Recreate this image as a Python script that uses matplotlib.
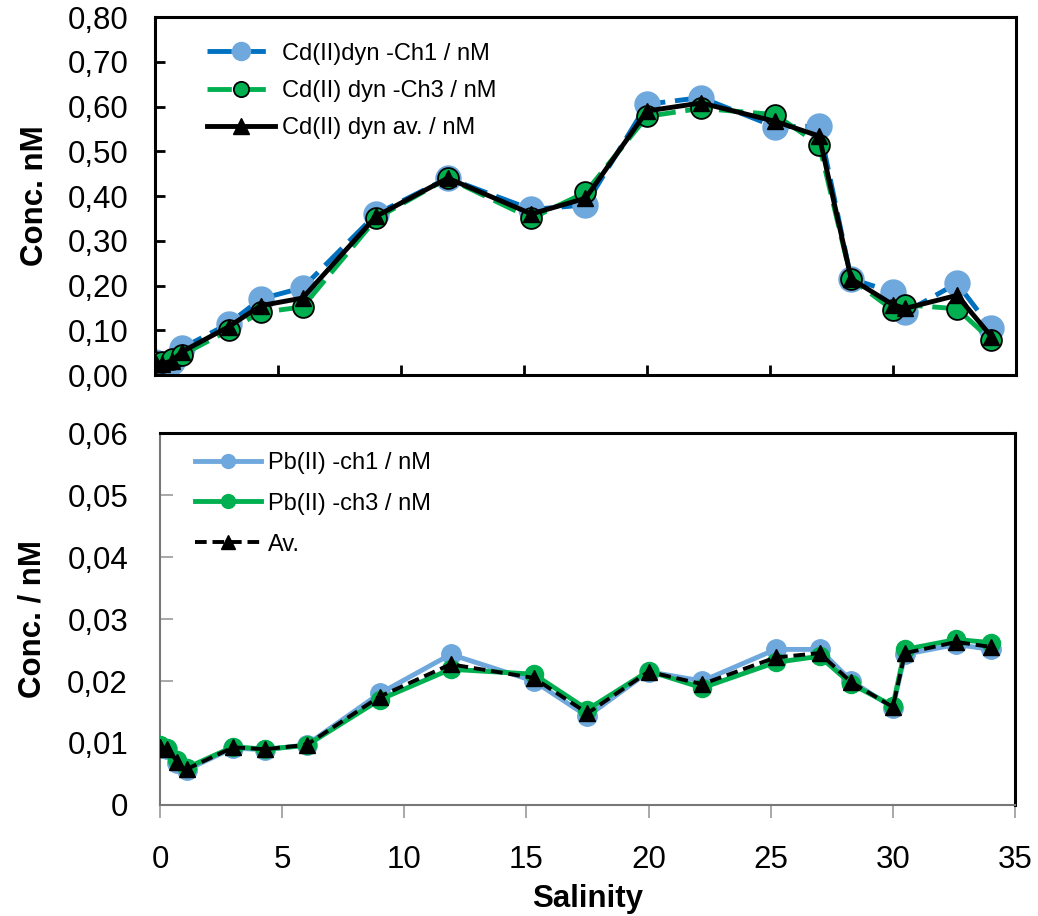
import numpy as np
import matplotlib
matplotlib.use("Agg")
import matplotlib.pyplot as plt
from matplotlib.ticker import FuncFormatter, MultipleLocator

plt.rcParams["font.family"] = ["Liberation Sans", "DejaVu Sans"]

# salinity of the samples
sal = [0.0, 0.3, 0.7, 1.1, 3.0, 4.3, 6.0, 9.0, 11.9, 15.3, 17.5,
       20.0, 22.2, 25.2, 27.0, 28.3, 30.0, 30.5, 32.6, 34.0]

# Cd(II) dynamic, nM
cd_ch1 = [0.03, 0.02, 0.03, 0.06, 0.115, 0.17, 0.195, 0.36, 0.44, 0.37, 0.38,
          0.605, 0.62, 0.555, 0.556, 0.215, 0.185, 0.14, 0.205, 0.104]
cd_ch3 = [0.03, 0.03, 0.035, 0.045, 0.10, 0.14, 0.152, 0.35, 0.44, 0.35, 0.408,
          0.578, 0.596, 0.582, 0.515, 0.215, 0.145, 0.157, 0.148, 0.078]
cd_av = [0.03, 0.025, 0.032, 0.052, 0.108, 0.155, 0.172, 0.355, 0.44, 0.36, 0.395,
         0.59, 0.608, 0.567, 0.534, 0.215, 0.157, 0.149, 0.178, 0.086]

# Pb(II), nM
pb_ch1 = [0.0092, 0.0090, 0.0068, 0.0057, 0.0092, 0.0089, 0.0097, 0.0180, 0.0243, 0.0200, 0.0143,
          0.0215, 0.0200, 0.0251, 0.0251, 0.0200, 0.0157, 0.0243, 0.0259, 0.0251]
pb_ch3 = [0.0096, 0.0092, 0.0072, 0.0060, 0.0094, 0.0090, 0.0096, 0.0170, 0.0219, 0.0211, 0.0154,
          0.0216, 0.0189, 0.0230, 0.0240, 0.0195, 0.0160, 0.0251, 0.0267, 0.0262]
pb_av = [0.0094, 0.0091, 0.0070, 0.0058, 0.0093, 0.0090, 0.0097, 0.0175, 0.0227, 0.0205, 0.0148,
         0.0215, 0.0195, 0.0238, 0.0245, 0.0198, 0.0158, 0.0245, 0.0263, 0.0255]

BLUE = "#0070C0"
LBLUE = "#6FA8DC"
GREEN = "#00B050"

fig = plt.figure(figsize=(10.38, 9.16), dpi=100)

# ---- top panel: Cd ----
ax1 = fig.add_axes([0.1493, 0.5906, 0.8295, 0.3908])
ax1.plot(sal, cd_ch1, color=BLUE, lw=3.5, ls=(0, (5, 2)), marker="o", ms=18,
         mfc=LBLUE, mec=LBLUE, label="Cd(II)dyn -Ch1 / nM", zorder=2)
ax1.plot(sal, cd_ch3, color=GREEN, lw=3.5, ls=(0, (5, 2)), marker="o", ms=15,
         mfc=GREEN, mec="black", mew=1.3, label="Cd(II) dyn -Ch3 / nM", zorder=3)
ax1.plot(sal, cd_av, color="black", lw=3.5, marker="^", ms=11,
         label="Cd(II) dyn av. / nM", zorder=4)
ax1.set_xlim(0, 35)
ax1.set_ylim(0, 0.8)
ax1.xaxis.set_major_locator(MultipleLocator(5))
ax1.yaxis.set_major_locator(MultipleLocator(0.1))
ax1.tick_params(axis="both", direction="in", length=7, width=2, labelsize=22.5)
ax1.tick_params(axis="y", pad=19)
ax1.tick_params(axis="x", labelbottom=False)
ax1.yaxis.set_major_formatter(FuncFormatter(lambda v, p: f"{v:.2f}".replace(".", ",")))
for s in ax1.spines.values():
    s.set_linewidth(2.2)
ax1.set_ylabel("Conc. nM", fontsize=22.5, fontweight="bold")
ax1.yaxis.set_label_coords(-0.122, 0.5)
leg1 = ax1.legend(loc="upper left", bbox_to_anchor=(0.049, 0.955), frameon=False,
                  fontsize=17, handlelength=2.9, handletextpad=0.3, labelspacing=0.65,
                  borderaxespad=0)
leg1.get_lines()[0].set_markersize(13)
leg1.get_lines()[1].set_markersize(11)
leg1.get_lines()[2].set_markersize(11)

# ---- bottom panel: Pb ----
ax2 = fig.add_axes([0.1541, 0.1212, 0.8237, 0.406])
ax2.plot(sal, pb_ch1, color=LBLUE, lw=3.5, marker="o", ms=14,
         label="Pb(II) -ch1 / nM", zorder=2)
ax2.plot(sal, pb_ch3, color=GREEN, lw=3.5, marker="o", ms=13,
         label="Pb(II) -ch3 / nM", zorder=3)
ax2.plot(sal, pb_av, color="black", lw=2.8, ls=(0, (3, 1.5)), marker="^", ms=11,
         label="Av.", zorder=4)
ax2.set_xlim(0, 35)
ax2.set_ylim(0, 0.06)
ax2.xaxis.set_major_locator(MultipleLocator(5))
ax2.yaxis.set_major_locator(MultipleLocator(0.01))
ax2.tick_params(axis="y", direction="in", length=9, width=1.2, color="#999999",
                labelsize=22.5, pad=23)
ax2.tick_params(axis="x", direction="out", length=9, width=1.2, color="#999999",
                labelsize=22.5, pad=20)
ax2.yaxis.set_major_formatter(FuncFormatter(
    lambda v, p: "0" if abs(v) < 1e-9 else f"{v:.2f}".replace(".", ",")))
ax2.spines["left"].set_color("#777777")
ax2.spines["bottom"].set_color("#777777")
ax2.spines["left"].set_linewidth(1.5)
ax2.spines["bottom"].set_linewidth(1.5)
ax2.spines["top"].set_linewidth(2.2)
ax2.spines["right"].set_linewidth(2.2)
ax2.set_ylabel("Conc. / nM", fontsize=22.5, fontweight="bold")
ax2.yaxis.set_label_coords(-0.132, 0.5)
ax2.set_xlabel("Salinity", fontsize=22.5, fontweight="bold", labelpad=6)
leg2 = ax2.legend(loc="upper left", bbox_to_anchor=(0.03, 0.975), frameon=False,
                  fontsize=17, handlelength=2.8, handletextpad=0.3, labelspacing=0.8,
                  borderaxespad=0)
for ln in leg2.get_lines():
    ln.set_markersize(10)

fig.savefig("out.png", dpi=100)
